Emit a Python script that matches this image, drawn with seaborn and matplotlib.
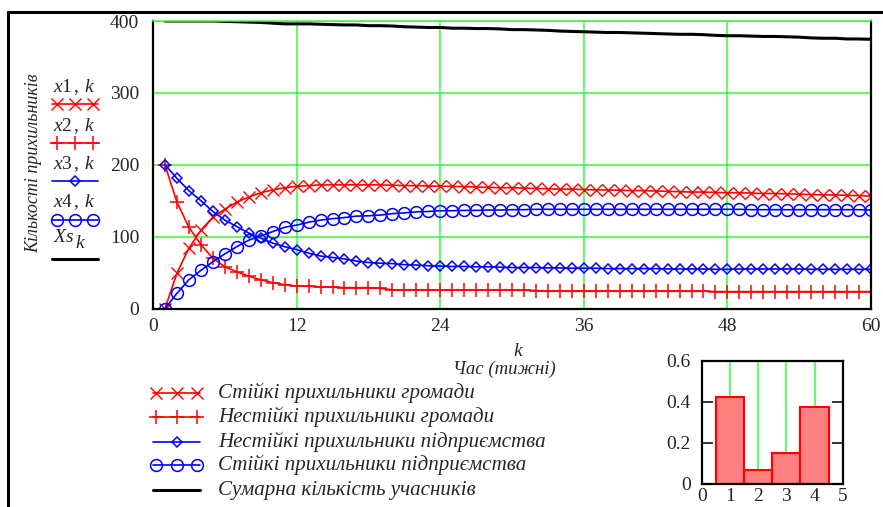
import numpy as np
import pandas as pd
import matplotlib
matplotlib.use("Agg")
import matplotlib.pyplot as plt
import seaborn as sns
from matplotlib.lines import Line2D

# data (k = week 1..60)
weeks = np.arange(1, 61)

x1 = [0, 49, 84, 109, 127, 138, 148, 155, 161, 165,
      168, 170, 171, 172, 172, 172, 172, 172, 172, 171.5,
      171, 171, 170.5, 170, 170, 169.5, 169, 168.5, 168, 168,
      167.5, 167, 166.5, 166, 166, 165.5, 165, 165, 164.5, 164,
      164, 163.5, 163, 162.5, 162, 162, 161.5, 161, 161, 160.5,
      160, 160, 159.5, 159, 158.5, 158, 158, 157.5, 157, 156.5]

x2 = [200, 148, 113, 89, 70, 58, 51, 45, 40, 36,
      33, 31, 31, 30, 30, 29, 29, 29, 28, 26,
      26, 26, 26, 25.5, 25.5, 25.5, 25.5, 25.5, 25.5, 25.5,
      25.5, 25, 24, 24, 24, 24, 24, 24, 24, 24,
      24, 24, 24, 24, 24, 24, 23.5, 23.5, 23.5, 23.5,
      23.5, 23.5, 23.5, 23.5, 23.5, 23.5, 23.5, 23.5, 23.5, 23.5]

x3 = [200, 181, 164, 150, 135, 123, 114, 105, 98, 91,
      86, 82, 77, 73, 71, 69, 66, 64, 63, 62.5,
      61, 60.5, 59.5, 59, 58.5, 58.5, 58, 58, 57.5, 57,
      57, 57, 56.5, 56.5, 56, 56, 56, 55.5, 55.5, 55.5,
      55.5, 55.5, 55, 55, 55, 55, 54.5, 54.5, 55, 55,
      55, 55, 55, 55, 54.5, 54.5, 54.5, 54.5, 54.5, 54.5]

x4 = [0, 21, 40, 53, 65, 76, 86, 95, 101, 107,
      113, 116, 120, 123, 125, 126.5, 128.5, 129, 130, 132,
      133, 134.5, 135, 136, 136, 136.5, 136.5, 137, 137, 137.5,
      137.5, 138, 138, 138, 138, 138, 138, 138, 138, 138,
      138, 138, 138, 138, 138, 138, 138, 138, 138, 137.5,
      137.5, 137.5, 137.5, 137.5, 137.5, 137.5, 137.5, 137.5, 137.5, 137]

xs = [400, 400, 400, 400, 400, 399.5, 399, 398.5, 398, 397,
      396, 396, 396, 395.5, 395, 394.5, 394.5, 393.5, 393.5, 393,
      392, 391.5, 391, 391, 390, 390, 389.5, 389.5, 389, 388,
      388, 387.5, 387, 386, 385.5, 385, 384.5, 384, 384, 383.5,
      383, 382.5, 382, 381.5, 381.5, 381, 380, 379.5, 379.5, 379,
      378.5, 378.5, 378, 377.5, 376.5, 376, 376, 375, 375, 374.5]

# small histogram
hist_pos = [1, 2, 3, 4]
hist_val = [0.425, 0.068, 0.149, 0.376]

x_ticks = [0, 12, 24, 36, 48, 60]
y_ticks = [0, 100, 200, 300, 400]

legend_names = ["Стійкі прихильники громади",
                "Нестійкі прихильники громади",
                "Нестійкі прихильники підприємства",
                "Стійкі прихильники підприємства",
                "Сумарна кількість учасників"]
short_names = [r"$x\mathrm{1\,,}\,k$", r"$x\mathrm{2\,,}\,k$",
               r"$x\mathrm{3\,,}\,k$", r"$x\mathrm{4\,,}\,k$",
               r"$Xs$"]

sns.set_style("white")
plt.rcParams['font.family'] = ['Liberation Serif', 'DejaVu Serif']
plt.rcParams['mathtext.fontset'] = 'custom'
plt.rcParams['mathtext.rm'] = 'Liberation Serif'
plt.rcParams['mathtext.it'] = 'Liberation Serif:italic'

W, H = 883, 507
GREEN = '#33ff33'

def fx(x):
    return x / W

def fy(y):
    return 1 - y / H

fig = plt.figure(figsize=(W / 100, H / 100), dpi=100)

# main chart
ax = fig.add_axes([fx(153), fy(308.5), 718 / W, 287.5 / H])
styles = [
    dict(marker='x', markersize=8, markeredgewidth=1.0, color='red', markeredgecolor='red'),
    dict(marker='+', markersize=9.5, markeredgewidth=1.1, color='red', markeredgecolor='red'),
    dict(marker='D', markersize=5, markeredgewidth=1.1, color='blue', markeredgecolor='blue',
         markerfacecolor='none'),
    dict(marker='o', markersize=8.5, markeredgewidth=1.1, color='blue', markeredgecolor='blue',
         markerfacecolor='none'),
    dict(color='black', linewidth=2.2),
]
series = [x1, x2, x3, x4, xs]
for vals, st in zip(series, styles):
    kw = dict(linewidth=1.2)
    kw.update(st)
    sns.lineplot(x=weeks, y=vals, ax=ax, estimator=None, **kw)

ax.set_xlim(0, 60)
ax.set_ylim(0, 400)
ax.set_xticks(x_ticks)
ax.set_yticks(y_ticks)
ax.grid(True, color=GREEN, linewidth=1.1)
ax.set_axisbelow(True)
ax.tick_params(axis='both', length=0, labelsize=14)
ax.tick_params(axis='y', pad=10)
ax.tick_params(axis='x', pad=7)
for side in ['left', 'bottom', 'right']:
    ax.spines[side].set_color('black')
    ax.spines[side].set_linewidth(1.6)
ax.spines['top'].set_color(GREEN)
ax.spines['top'].set_linewidth(1.1)
ax.set_xlabel('')
ax.set_ylabel('')

fig.text(fx(34), fy(163), "Кількості прихильників", rotation=90,
         ha='center', va='center', fontsize=13, style='italic')
fig.text(fx(518), fy(352), "k", ha='center', va='center', fontsize=14, style='italic')
fig.text(fx(504), fy(369), "Час (тижні)", ha='center', va='center', fontsize=13.5, style='italic')

# left legend (names with sample lines)
text_y = [87, 126, 164, 202, 237]
line_y = [104, 143, 181, 220, 259]
for i in range(5):
    fig.text(fx(53), fy(text_y[i]), short_names[i], ha='left', va='center', fontsize=14)
    st = styles[i]
    lw = st.get('linewidth', 1.2)
    fig.add_artist(Line2D([fx(52), fx(98)], [fy(line_y[i])] * 2, transform=fig.transFigure,
                          color=st['color'], linewidth=lw))
    if 'marker' in st:
        pts = [75] if st['marker'] == 'D' else [57, 75, 93]
        mk = {k: v for k, v in st.items() if k != 'linewidth'}
        fig.add_artist(Line2D([fx(p) for p in pts], [fy(line_y[i])] * len(pts),
                              transform=fig.transFigure, linestyle='none', **mk))
# lowered index of Xs
fig.text(fx(80), fy(244), "k", ha='center', va='center', fontsize=14, style='italic')

# bottom legend
rows = [393, 417, 442, 465, 490]
for i in range(5):
    st = styles[i]
    lw = st.get('linewidth', 1.2)
    fig.add_artist(Line2D([fx(153), fx(200)], [fy(rows[i])] * 2, transform=fig.transFigure,
                          color=st['color'], linewidth=lw))
    if 'marker' in st:
        pts = [177] if st['marker'] == 'D' else [156, 177, 197]
        mk = {k: v for k, v in st.items() if k != 'linewidth'}
        fig.add_artist(Line2D([fx(p) for p in pts], [fy(rows[i])] * len(pts),
                              transform=fig.transFigure, linestyle='none', **mk))
    fig.text(fx(218), fy(rows[i]), legend_names[i], ha='left', va='center',
             fontsize=15.1, style='italic')

# small histogram
axh = fig.add_axes([fx(701.7), fy(484), 141 / W, 123.3 / H])
sns.barplot(x=hist_pos, y=hist_val, native_scale=True, width=1, color='#ff8080',
            saturation=1, edgecolor='red', linewidth=1.5, ax=axh)
axh.set_xlim(0, 5)
axh.set_ylim(0, 0.6)
axh.set_xticks([0, 1, 2, 3, 4, 5])
axh.set_yticks([0, 0.2, 0.4, 0.6])
axh.set_yticklabels(['0', '0.2', '0.4', '0.6'])
axh.set_axisbelow(True)
axh.xaxis.grid(True, color=GREEN, linewidth=1.1)
axh.yaxis.grid(False)
axh.tick_params(axis='x', length=0, labelsize=14, pad=3)
axh.tick_params(axis='y', direction='in', length=8, width=1.4, color='#333333',
                left=True, right=True, labelsize=14, pad=8)
for side in ['left', 'bottom', 'right', 'top']:
    axh.spines[side].set_color('black')
    axh.spines[side].set_linewidth(1.6)
axh.set_xlabel('')
axh.set_ylabel('')

# outer frame (clipped at right and bottom)
fig.add_artist(Line2D([fx(8), 1.0], [fy(12), fy(12)], transform=fig.transFigure,
                      color='black', linewidth=2.2))
fig.add_artist(Line2D([fx(8), fx(8)], [fy(12), 0.0], transform=fig.transFigure,
                      color='black', linewidth=2.2))

fig.savefig("out.png", dpi=100)
